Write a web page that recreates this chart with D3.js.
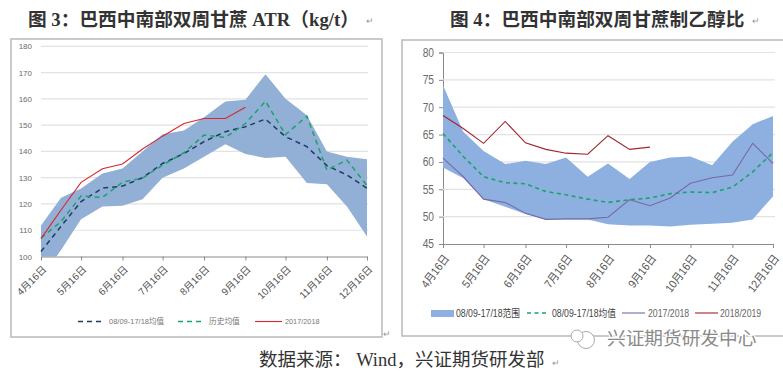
<!DOCTYPE html>
<html>
<head>
<meta charset="utf-8">
<script src="https://d3js.org/d3.v7.min.js"></script>
<style>
html, body { margin: 0; padding: 0; background: #fff; overflow: hidden; }
svg { display: block; }
text { font-family: "Liberation Sans", "Noto Sans CJK SC", sans-serif; }
.titulo { font-family: "Liberation Serif", "Noto Sans CJK SC", serif; font-weight: bold; font-size: 18.7px; fill: #333; }
.fuente { font-family: "Liberation Serif", "Noto Sans CJK SC", serif; font-size: 18.5px; fill: #333; }
.retorno { font-size: 9px; fill: #999; }
</style>
</head>
<body>
<svg id="grafico" width="783" height="372"></svg>
<script>
// fechas quincenales, comunes a los dos graficos
var fechas = ["04-16","05-01","05-16","06-01","06-16","07-01","07-16","08-01","08-16","09-01","09-16","10-01","10-16","11-01","11-16","12-01","12-16"];
var ticksFecha = ["04-16","05-16","06-16","07-16","08-16","09-16","10-16","11-16","12-16"];

// grafico 3: ATR
var atrAlto = [111.8,122.4,125.9,131.6,133.5,140,146.5,148,153,159,159.7,169.4,160,153.8,140,138,137];
var atrBajo = [91.6,102.5,114.2,119,119.3,121.8,130,133.5,138,142.7,139,137.5,138,128,127.5,119,107.6];
var atrMedia = [101.9,111.5,120.9,126,126.8,130,135.4,139.2,143.7,147.5,149.4,152.3,145.6,141.8,134.6,131,126];
var atrHistorico = [107,113.3,123,122.5,128.3,129.8,134.8,139.5,146.2,145.3,150.6,159.1,146.4,153.4,132.9,136.7,127];
var atr2018 = [106.8,117.7,128.2,133.4,135.2,140.9,145.8,150.6,152.5,152.5,156.8];
var ticksAtr = [100,110,120,130,140,150,160,170,180];

// grafico 4: etanol
var etaAlto = [74,65.5,62,59.6,60.2,59.6,60.8,57.3,59.7,56.9,60,60.8,61,59.4,63.7,66.9,68.4];
var etaBajo = [59,57,53.2,51.8,50.5,49.5,49.5,49.5,48.6,48.4,48.4,48.2,48.5,48.7,48.9,49.5,53.7];
var etaMedia = [65.2,61,57.3,56.2,56,54.6,54,53.2,52.6,53.1,53.4,54.2,54.5,54.4,55.4,58.2,61.7];
var eta2018 = [60.7,57.3,53.2,52.6,50.6,49.5,49.6,49.6,49.9,53.1,52,53.4,56.1,57.1,57.6,63.4,59.7];
var eta2019 = [68.5,66.1,63.4,67.4,63.5,62.3,61.6,61.4,64.8,62.3,62.7];
var ticksEta = [45,50,55,60,65,70,75,80];

var svg = d3.select("#grafico");
var parseFecha = d3.timeParse("%m-%d");
var formatoFecha = d3.timeFormat("%-m月%-d日");
var fechasD = fechas.map(parseFecha);

var AZUL = "#1f3864", VERDE = "#1aa36a", ROJO = "#d9262e", MORADO = "#7768a6", GUINDA = "#a3242c";

// el grafico de la derecha usa letra estrecha
function estrecha(sel, factor) {
  if (!factor) return;
  sel.each(function () {
    d3.select(this).attr("textLength", this.getComputedTextLength() * factor)
      .attr("lengthAdjust", "spacingAndGlyphs");
  });
}

// marcos
svg.append("rect").attr("x", 11).attr("y", 39).attr("width", 371).attr("height", 298)
  .attr("fill", "#fff").attr("stroke", "#bdbdbd").attr("stroke-width", 1.6);
svg.append("rect").attr("x", 402).attr("y", 40).attr("width", 390).attr("height", 296)
  .attr("fill", "#fff").attr("stroke", "#bdbdbd").attr("stroke-width", 1.6);

function dibuja(conf) {
  var x = d3.scaleTime().domain(d3.extent(fechasD)).range([conf.x0, conf.x1]);
  var y = d3.scaleLinear().domain(d3.extent(conf.ticks)).range([conf.y0, conf.y1]);

  var clipId = "clip" + conf.id;
  svg.append("clipPath").attr("id", clipId).append("rect")
    .attr("x", conf.x0).attr("y", conf.y1).attr("width", conf.x1 - conf.x0 + 1).attr("height", conf.y0 - conf.y1);

  // rejilla y eje Y
  var ejeY = svg.append("g").attr("transform", "translate(" + conf.x0 + ",0)")
    .call(d3.axisLeft(y).tickValues(conf.ticks).tickSize(conf.marcaY).tickPadding(conf.padY));
  ejeY.select(".domain").attr("stroke", conf.lineaY ? "#8a8a8a" : "none");
  ejeY.selectAll("line").attr("stroke", "#8a8a8a");
  ejeY.selectAll("text").attr("fill", "#6b6b6b").style("font-size", conf.fuenteY + "px").call(estrecha, conf.angosto);
  svg.append("g").selectAll("line").data(conf.ticks.slice(1)).enter().append("line")
    .attr("x1", conf.x0).attr("x2", conf.x1 + conf.extra)
    .attr("y1", function (d) { return y(d); }).attr("y2", function (d) { return y(d); })
    .attr("stroke", "#e2e2e2").attr("stroke-width", 1.2);

  // banda
  var area = d3.area()
    .x(function (d, i) { return x(fechasD[i]); })
    .y0(function (d, i) { return y(conf.bajo[i]); })
    .y1(function (d) { return y(d); });
  svg.append("path").datum(conf.alto).attr("d", area).attr("fill", conf.colorBanda)
    .attr("clip-path", "url(#" + clipId + ")");

  // eje X
  var ejeX = svg.append("g").attr("transform", "translate(0," + conf.y0 + ")")
    .call(d3.axisBottom(x).tickValues(ticksFecha.map(parseFecha)).tickFormat(formatoFecha).tickSize(4).tickPadding(5).tickSizeOuter(0));
  ejeX.select(".domain").attr("stroke", "#8a8a8a");
  ejeX.selectAll("line").attr("stroke", "#8a8a8a");
  ejeX.selectAll("text").attr("fill", "#555").style("font-size", conf.fuenteX + "px")
    .attr("text-anchor", "end").attr("x", 0).attr("y", 0).attr("dy", "0.35em")
    .attr("transform", "translate(3," + conf.bajaX + ") rotate(" + conf.giroX + ")")
    .call(estrecha, conf.angostoX);

  // lineas
  conf.series.forEach(function (s) {
    var linea = d3.line()
      .x(function (d, i) { return x(fechasD[i]); })
      .y(function (d) { return y(d); });
    svg.append("path").datum(s.valores).attr("d", linea).attr("fill", "none")
      .attr("stroke", s.color).attr("stroke-width", s.grosor)
      .attr("stroke-dasharray", s.guion || null);
  });
}

dibuja({
  id: 3, x0: 41, x1: 367, y0: 256.5, y1: 46.3, ticks: ticksAtr,
  alto: atrAlto, bajo: atrBajo, colorBanda: "#92afd6",
  marcaY: 0, padY: 9, lineaY: false, fuenteY: 8, fuenteX: 10, extra: 1,
  bajaX: 11, giroX: -45,
  series: [
    { valores: atrMedia, color: AZUL, grosor: 1.5, guion: "5,4" },
    { valores: atrHistorico, color: VERDE, grosor: 1.5, guion: "5,4" },
    { valores: atr2018, color: ROJO, grosor: 1.1 }
  ]
});

dibuja({
  id: 4, x0: 443, x1: 773, y0: 244, y1: 52.5, ticks: ticksEta,
  alto: etaAlto, bajo: etaBajo, colorBanda: "#8db0e0",
  marcaY: 4, padY: 5, lineaY: true, fuenteY: 12, fuenteX: 11.5, extra: 2,
  bajaX: 12, giroX: -53, angosto: 0.85, angostoX: 0.9,
  series: [
    { valores: etaMedia, color: VERDE, grosor: 1.6, guion: "4,3.5" },
    { valores: eta2018, color: MORADO, grosor: 1.1 },
    { valores: eta2019, color: GUINDA, grosor: 1.1 }
  ]
});

// leyendas
function muestra(x1, x2, yy, color, grosor, guion) {
  svg.append("line").attr("x1", x1).attr("x2", x2).attr("y1", yy).attr("y2", yy)
    .attr("stroke", color).attr("stroke-width", grosor).attr("stroke-dasharray", guion || null);
}
function rotulo(xx, yy, txt, color, tam, factor) {
  svg.append("text").attr("x", xx).attr("y", yy).attr("dy", "0.35em")
    .attr("fill", color).style("font-size", tam + "px").text(txt).call(estrecha, factor);
}
muestra(78, 102, 321.5, AZUL, 1.5, "5,4");
rotulo(109, 321.5, "08/09-17/18均值", "#777", 7.5);
muestra(178, 202, 321.5, VERDE, 1.5, "5,4");
rotulo(209, 321.5, "历史均值", "#777", 7.7);
muestra(255, 282, 321.5, ROJO, 1.1);
rotulo(285, 321.5, "2017/2018", "#777", 7.3);

svg.append("rect").attr("x", 431).attr("y", 310).attr("width", 23).attr("height", 7).attr("fill", "#8db0e0");
rotulo(456, 313, "08/09-17/18范围", "#444", 10.5, 0.83);
muestra(527, 547, 313, VERDE, 1.6, "4,3.5");
rotulo(552, 313, "08/09-17/18均值", "#444", 10.5, 0.83);
muestra(622, 645, 313, MORADO, 1.1);
rotulo(648, 313, "2017/2018", "#666", 10.5, 0.83);
muestra(695, 718, 313, GUINDA, 1.1);
rotulo(720, 313, "2018/2019", "#666", 10.5, 0.83);

// titulos
svg.append("text").attr("class", "titulo").attr("x", 28).attr("y", 26).text("图 3：巴西中南部双周甘蔗 ATR（kg/t）");
svg.append("text").attr("class", "titulo").attr("x", 450).attr("y", 26).text("图 4：巴西中南部双周甘蔗制乙醇比");
svg.append("text").attr("class", "fuente").attr("x", 259).attr("y", 366).text("数据来源： Wind，兴证期货研发部");
svg.append("text").attr("class", "retorno").attr("x", 366).attr("y", 24).text("↵");
svg.append("text").attr("class", "retorno").attr("x", 752).attr("y", 24).text("↵");
svg.append("text").attr("class", "retorno").attr("x", 552).attr("y", 366).text("↵");
svg.append("text").attr("class", "retorno").attr("x", 383).attr("y", 337).text("↵");

// marca de agua
var marca = svg.append("g");
marca.append("circle").attr("cx", 586).attr("cy", 340).attr("r", 8.5).attr("fill", "#fff").attr("stroke", "#aaa").attr("stroke-width", 1);
marca.append("circle").attr("cx", 577).attr("cy", 336).attr("r", 6).attr("fill", "#fff").attr("stroke", "#aaa").attr("stroke-width", 1);
marca.append("text").attr("x", 607).attr("y", 345)
  .attr("fill", "#8a8a8a").attr("stroke", "#fff").attr("stroke-width", 2.5).attr("paint-order", "stroke")
  .style("font-size", "18.7px").text("兴证期货研发中心");
</script>
</body>
</html>
